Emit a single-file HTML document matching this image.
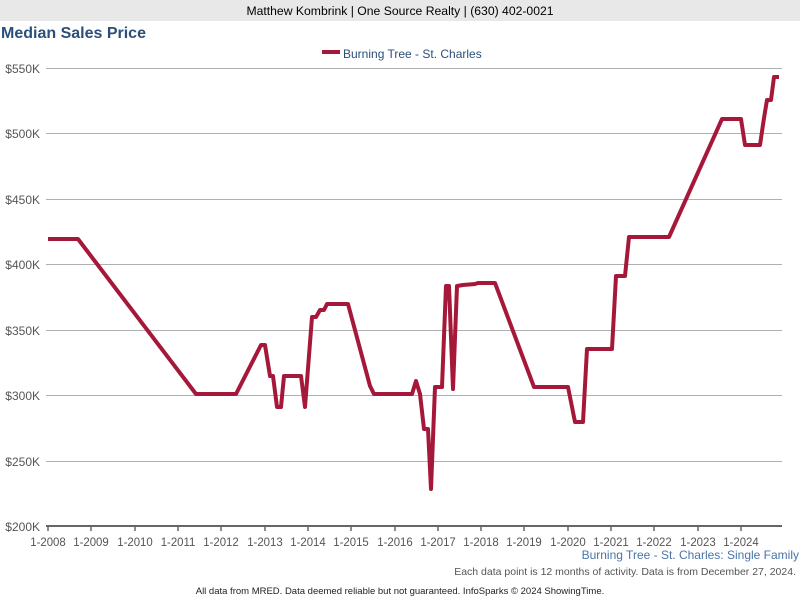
<!DOCTYPE html>
<html><head><style>
body{margin:0;width:800px;height:600px;background:#fff;font-family:"Liberation Sans",sans-serif;overflow:hidden;position:relative}
.hdr{position:absolute;top:0;left:0;width:800px;height:21px;background:#e8e8e8;text-align:center;font-size:12.2px;line-height:22px;color:#000}
.title{position:absolute;top:25px;left:1px;font-size:16px;font-weight:bold;color:#2b4f7a}
</style></head><body>
<div class="hdr">Matthew Kombrink | One Source Realty | (630) 402-0021</div>
<div class="title">Median Sales Price</div>
<svg width="800" height="600" style="position:absolute;top:0;left:0" font-family="Liberation Sans, sans-serif">
<rect x="322" y="50" width="18" height="4" fill="#a6183a"/>
<text x="343" y="58" font-size="12" fill="#2b4f7a">Burning Tree - St. Charles</text>
<g stroke="#b0b0b0" stroke-width="1">
<line x1="46" x2="782" y1="68.5" y2="68.5"/><line x1="46" x2="782" y1="133.5" y2="133.5"/>
<line x1="46" x2="782" y1="199.5" y2="199.5"/><line x1="46" x2="782" y1="264.5" y2="264.5"/>
<line x1="46" x2="782" y1="330.5" y2="330.5"/><line x1="46" x2="782" y1="395.5" y2="395.5"/>
<line x1="46" x2="782" y1="461.5" y2="461.5"/>
</g>
<line x1="46" x2="782" y1="526" y2="526" stroke="#666" stroke-width="2"/>
<g stroke="#666" stroke-width="1.5">
<line x1="48" x2="48" y1="526" y2="531"/><line x1="91" x2="91" y1="526" y2="531"/><line x1="135" x2="135" y1="526" y2="531"/><line x1="178" x2="178" y1="526" y2="531"/><line x1="221" x2="221" y1="526" y2="531"/><line x1="265" x2="265" y1="526" y2="531"/><line x1="308" x2="308" y1="526" y2="531"/><line x1="351" x2="351" y1="526" y2="531"/><line x1="395" x2="395" y1="526" y2="531"/><line x1="438" x2="438" y1="526" y2="531"/><line x1="481" x2="481" y1="526" y2="531"/><line x1="524" x2="524" y1="526" y2="531"/><line x1="568" x2="568" y1="526" y2="531"/><line x1="611" x2="611" y1="526" y2="531"/><line x1="654" x2="654" y1="526" y2="531"/><line x1="698" x2="698" y1="526" y2="531"/><line x1="741" x2="741" y1="526" y2="531"/>
</g>
<g font-size="12" fill="#555" text-anchor="end">
<text x="40" y="73">$550K</text><text x="40" y="138">$500K</text><text x="40" y="204">$450K</text><text x="40" y="269">$400K</text><text x="40" y="335">$350K</text><text x="40" y="400">$300K</text><text x="40" y="466">$250K</text><text x="40" y="531">$200K</text>
</g>
<g font-size="12" fill="#555" text-anchor="middle" transform="scale(0.95,1)">
<text x="50.5" y="546">1-2008</text><text x="95.8" y="546">1-2009</text><text x="142.1" y="546">1-2010</text><text x="187.4" y="546">1-2011</text><text x="232.6" y="546">1-2012</text><text x="278.9" y="546">1-2013</text><text x="324.2" y="546">1-2014</text><text x="369.5" y="546">1-2015</text><text x="415.8" y="546">1-2016</text><text x="461.1" y="546">1-2017</text><text x="506.3" y="546">1-2018</text><text x="551.6" y="546">1-2019</text><text x="597.9" y="546">1-2020</text><text x="643.2" y="546">1-2021</text><text x="688.4" y="546">1-2022</text><text x="734.7" y="546">1-2023</text><text x="780" y="546">1-2024</text>
</g>
<text x="799" y="559" font-size="12" fill="#4a74a8" text-anchor="end">Burning Tree - St. Charles: Single Family</text>
<text x="796" y="575" font-size="10.5" fill="#555" text-anchor="end">Each data point is 12 months of activity. Data is from December 27, 2024.</text>
<text x="400" y="594" font-size="9.5" fill="#222" text-anchor="middle">All data from MRED. Data deemed reliable but not guaranteed. InfoSparks © 2024 ShowingTime.</text>
<polyline fill="none" stroke="#a6183a" stroke-width="4" stroke-linejoin="round" points="48,239 78,239 196,394 236,394 261,345 265,345 270,376 273,376 277,407 281,407 284,376 301,376 305,407 312,317 316,317 320,310 324,310 327,304 348,304 370,386 374,394 412,394 416,381 420,394 424,429 428,429 431,489 435,387 442,387 446,286 449,286 453,389 457,286 463,285 475,284 478,283 495,283 534,387 568,387 575,422 583,422 587,349 612,349 616,276 625,276 629,237 669,237 722,119 741,119 745,145 760,145 764,118 767,100 771,100 774,77 779,77"/>
</svg>
</body></html>
